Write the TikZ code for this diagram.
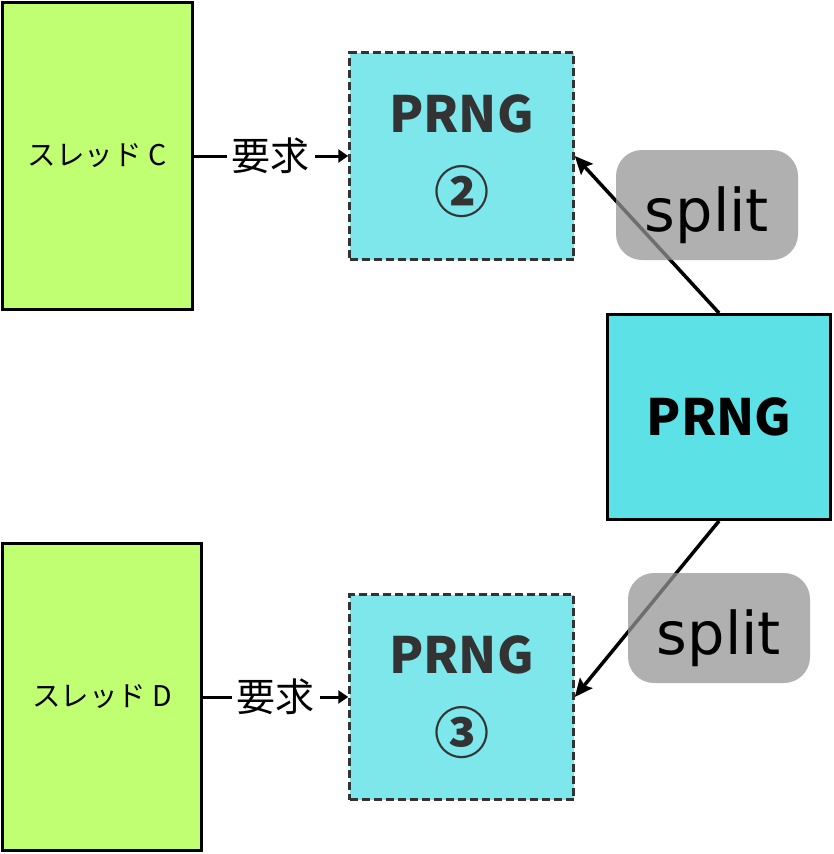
\documentclass[tikz,border=0pt]{standalone}
\usepackage{fontspec}
\setmainfont{Noto Sans}
\newfontfamily\jpfont{Noto Sans CJK JP}
\newfontfamily\splitfont{DejaVu Sans}
\usetikzlibrary{arrows.meta}
\definecolor{thr}{HTML}{C1FF72}
\definecolor{cyanA}{HTML}{5CE1E6}
\definecolor{dgray}{HTML}{333333}
\definecolor{splitgray}{HTML}{959595}
\newcommand{\circnum}[1]{{\fontsize{55}{60}\selectfont #1}}
\begin{document}
\begin{tikzpicture}[x=1pt,y=-1pt,
  thread/.style={draw=black, line width=3pt, fill=thr, inner sep=0pt,
    font=\jpfont\fontsize{28.5}{32}\selectfont},
  subprng/.style={draw=dgray, fill=cyanA, fill opacity=0.8, text opacity=1, text=dgray,
    line width=2.5pt, dash pattern=on 8pt off 4pt, inner sep=0pt, align=center,
    minimum width=224pt, font=\jpfont\bfseries\fontsize{50}{80}\selectfont},
  mainprng/.style={draw=black, fill=cyanA, line width=3pt, inner sep=0pt,
    minimum width=223pt, minimum height=205pt,
    font=\jpfont\bfseries\fontsize{50}{54}\selectfont},
  splitlbl/.style={fill=splitgray, fill opacity=0.74, text opacity=1, text=black,
    rounded corners=26pt, minimum width=182pt, minimum height=110pt, inner sep=0pt,
    text height=52pt, text depth=0pt, font=\splitfont\fontsize{59}{64}\selectfont},
  req/.style={line width=3pt, -{Triangle[length=10pt,width=13pt]}},
  splitarrow/.style={line width=3.5pt, -{Stealth[length=18pt,width=16pt,inset=3pt]}},
  reqlbl/.style={fill=white, inner sep=5pt, font=\jpfont\fontsize{39}{42}\selectfont}
]
\useasboundingbox (0,0) rectangle (834,854);

\node[thread, minimum width=190pt, minimum height=307pt] (tc) at (97,156) {スレッド C};
\node[thread, minimum width=199pt, minimum height=307pt] (td) at (102,697) {スレッド D};

\node[subprng, minimum height=207pt] (p2) at (461.5,156) {PRNG\\\circnum{②}};
\node[subprng, minimum height=205pt] (p3) at (461.5,697) {PRNG\\\circnum{③}};

\node[mainprng] (main) at (719,417) {PRNG};

\draw[req] (tc.east) -- node[reqlbl] (r1) {要求} (p2.west);
\draw[req] (td.east) -- node[reqlbl] (r2) {要求} (p3.west);

\draw[splitarrow] (main.north) -- (p2.east);
\draw[splitarrow] (main.south) -- (p3.east);

\node[splitlbl] (s1) at (707,205) {split};
\node[splitlbl] (s2) at (719,628) {split};
\end{tikzpicture}
\end{document}
